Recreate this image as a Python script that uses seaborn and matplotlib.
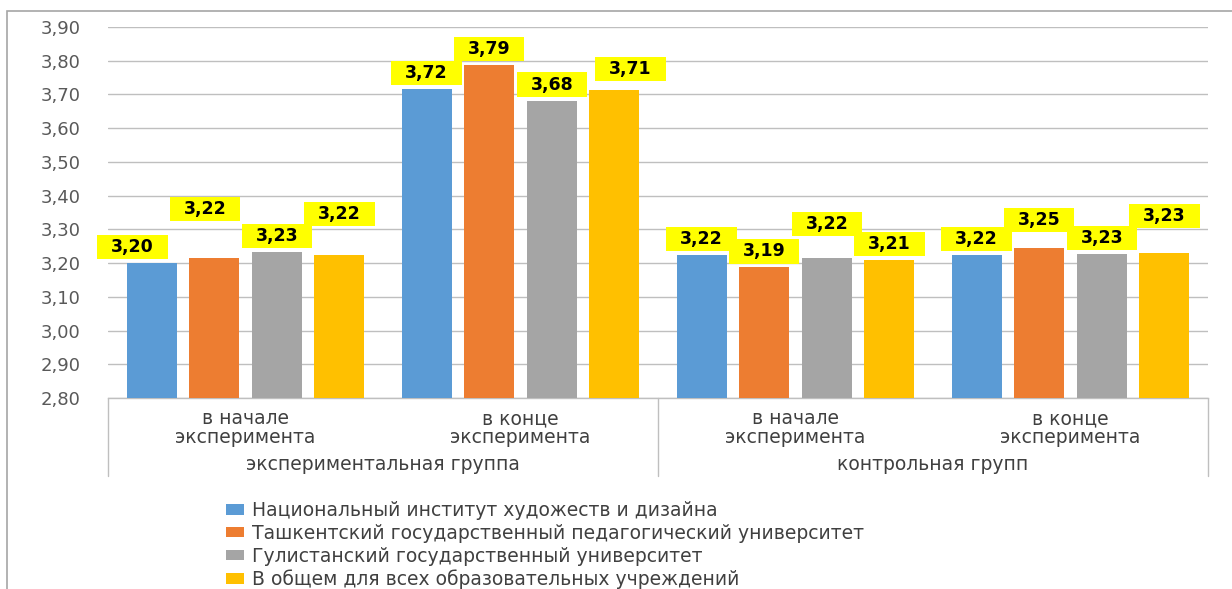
import matplotlib
matplotlib.use("Agg")
import matplotlib.pyplot as plt
import matplotlib.transforms as mtransforms
from matplotlib.patches import Rectangle
import seaborn as sns
import pandas as pd

# ---- data ----
categories = ["в начале\nэксперимента", "в конце\nэксперимента",
              "в начале\nэксперимента ", "в конце\nэксперимента "]
group_labels = ["экспериментальная группа", "контрольная групп"]
series_names = ["Национальный институт художеств и дизайна",
                "Ташкентский государственный педагогический университет",
                "Гулистанский государственный университет",
                "В общем для всех образовательных учреждений"]
nihd = [3.199, 3.717, 3.223, 3.223]
tgpu = [3.214, 3.787, 3.187, 3.244]
gu = [3.234, 3.682, 3.214, 3.228]
overall = [3.223, 3.712, 3.210, 3.229]
label_texts = [["3,20", "3,72", "3,22", "3,22"],
               ["3,22", "3,79", "3,19", "3,25"],
               ["3,23", "3,68", "3,22", "3,23"],
               ["3,22", "3,71", "3,21", "3,23"]]
y_ticks = [2.80, 2.90, 3.00, 3.10, 3.20, 3.30, 3.40, 3.50, 3.60, 3.70, 3.80, 3.90]
y_tick_labels = ["2,80", "2,90", "3,00", "3,10", "3,20", "3,30", "3,40",
                 "3,50", "3,60", "3,70", "3,80", "3,90"]

# label offsets (px) to mimic Excel's label placement: (dx, dy above bar top)
label_offsets = [[(-19, 16), (0, 16), (0, 16), (0, 16)],
                 [(-9, 49), (0, 16), (0, 16), (0, 28)],
                 [(0, 16), (0, 16), (0, 34), (0, 16)],
                 [(0, 41), (16, 21), (0, 16), (0, 37)]]

colors = ["#5B9BD5", "#ED7D31", "#A5A5A5", "#FFC000"]

series_values = [nihd, tgpu, gu, overall]
rows = []
for s, vals in zip(series_names, series_values):
    for c, v in zip(categories, vals):
        rows.append({"cat": c, "series": s, "value": v})
df = pd.DataFrame(rows)

sns.set_theme(style="white")
plt.rcParams["font.family"] = ["DejaVu Sans"]

W, H = 1232, 589
fig = plt.figure(figsize=(W / 100, H / 100), dpi=100)
ax = fig.add_axes([108 / W, (H - 398) / H, 1100 / W, 371 / H])

sns.barplot(data=df, x="cat", y="value", hue="series", order=categories,
            hue_order=series_names, palette=colors, saturation=1,
            width=0.91, gap=0.2, linewidth=0, errorbar=None, ax=ax,
            legend=True, zorder=3)

ax.set_ylim(2.80, 3.90)
ax.set_xlim(-0.5, 3.5)
ax.set_yticks(y_ticks)
ax.set_yticklabels(y_tick_labels)
ax.tick_params(axis="y", length=0, pad=20, labelsize=13, labelcolor="#595959")
ax.set_xticks([])
ax.set_xlabel("")
ax.set_ylabel("")
ax.grid(axis="y", color="#BFBFBF", linewidth=1.0, zorder=0)
ax.set_axisbelow(True)
for sp in ["left", "right", "top"]:
    ax.spines[sp].set_visible(False)
ax.spines["bottom"].set_color("#BFBFBF")
ax.spines["bottom"].set_linewidth(1.0)

# data labels
px2pt = 72 / 100
for si, cont in enumerate(ax.containers):
    for ci, bar in enumerate(cont):
        xc = bar.get_x() + bar.get_width() / 2
        yt = bar.get_height() + bar.get_y()
        dx, dy = label_offsets[si][ci]
        ax.annotate(label_texts[si][ci], (xc, yt),
                    xytext=(dx * px2pt, dy * px2pt), textcoords="offset points",
                    ha="center", va="center", fontsize=12.5, fontweight="bold",
                    color="black", zorder=5,
                    bbox=dict(boxstyle="square,pad=0.8", facecolor="#FFFF00",
                              edgecolor="none", mutation_aspect=0.22))

# multi-level category axis
trans = mtransforms.blended_transform_factory(ax.transData, fig.transFigure)
for i, c in enumerate(categories):
    ax.text(i, (H - 428) / H, c.strip(), transform=trans, ha="center", va="center",
            fontsize=13.5, color="#404040", linespacing=0.98)
for g, gl in enumerate(group_labels):
    ax.text(0.5 + 2 * g, (H - 465) / H, gl, transform=trans, ha="center",
            va="center", fontsize=13.5, color="#404040")
for xd in [-0.5, 1.5, 3.5]:
    ax.plot([xd, xd], [(H - 398) / H, (H - 476) / H], transform=trans,
            color="#BFBFBF", linewidth=1.0, clip_on=False)

# legend
handles, labels = ax.get_legend_handles_labels()
ax.get_legend().remove()
fig.legend(handles, labels, loc="upper left",
           bbox_to_anchor=(226 / W, (H - 501) / H), frameon=False,
           fontsize=13.5, handlelength=0.95, handleheight=0.5,
           handletextpad=0.45, labelspacing=0.2, borderpad=0,
           borderaxespad=0, labelcolor="#404040")

# outer chart border
fig.patches.append(Rectangle((7 / W, -0.1), 1.2, (H - 11) / H + 0.1,
                             transform=fig.transFigure, fill=False,
                             edgecolor="#A6A6A6", linewidth=1.2))

fig.savefig("out.png", dpi=100)
